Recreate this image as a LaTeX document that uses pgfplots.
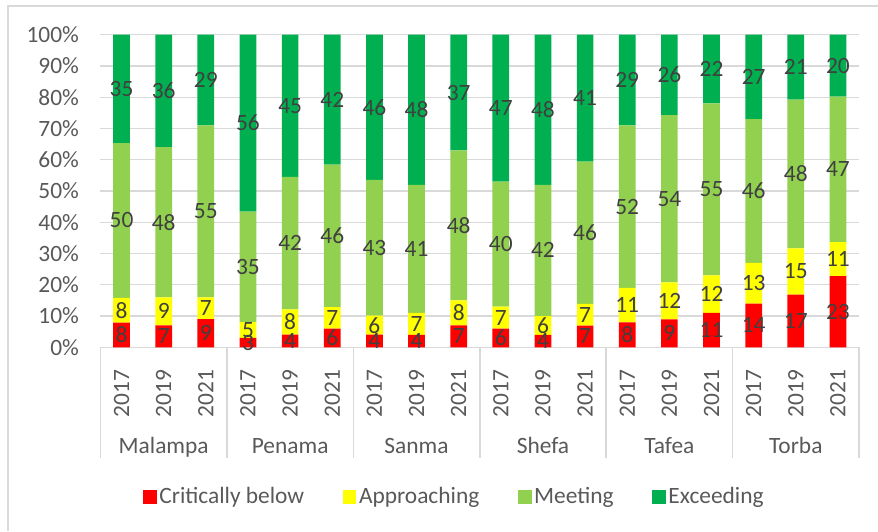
\documentclass[border=0pt]{standalone}
\usepackage{fontspec}
\setmainfont{Carlito}
\usepackage{pgfplots}
\pgfplotsset{compat=1.18}
\usepackage{pgfplotstable}

\definecolor{critred}{HTML}{FF0000}
\definecolor{apprylw}{HTML}{FFFF00}
\definecolor{meetgrn}{HTML}{92D050}
\definecolor{excdgrn}{HTML}{00B050}
\definecolor{labgray}{HTML}{595959}
\definecolor{valgray}{HTML}{404040}
\definecolor{gridgray}{HTML}{D9D9D9}

\newcommand\chartfont{\fontsize{11.7pt}{14pt}\selectfont}

% cn..en = share of the bar (scaled to 100), cl..el = printed value
\pgfplotstableread{
x  cn     an     mn     en     cl al ml el
0  7.92   7.92   49.50  34.65  8  8  50 35
1  7      9      48     36     7  9  48 36
2  9      7      55     29     9  7  55 29
3  3.03   5.05   35.35  56.57  3  5  35 56
4  4.04   8.08   42.42  45.45  4  8  42 45
5  5.94   6.93   45.54  41.58  6  7  46 42
6  4.04   6.06   43.43  46.46  4  6  43 46
7  4      7      41     48     4  7  41 48
8  7      8      48     37     7  8  48 37
9  6      7      40     47     6  7  40 47
10 4      6      42     48     4  6  42 48
11 6.93   6.93   45.54  40.59  7  7  46 41
12 8      11     52     29     8  11 52 29
13 8.91   11.88  53.47  25.74  9  12 54 26
14 11     12     55     22     11 12 55 22
15 14     13     46     27     14 13 46 27
16 16.83  14.85  47.52  20.79  17 15 48 21
17 22.77  10.89  46.53  19.80  23 11 47 20
}\scores

\begin{document}
\begin{tikzpicture}
\useasboundingbox (-50.25pt,-91.85pt) rectangle (388.75pt,173.65pt);
\draw[gridgray, line width=0.75pt] (-46.25pt,-91.85pt) -- (-46.25pt,170.65pt) -- (388.75pt,170.65pt);
\begin{axis}[
    at={(0pt,0pt)}, anchor=south west,
    scale only axis,
    width=379.25pt, height=156.3pt,
    ybar stacked,
    bar width=8.35pt,
    xmin=-0.5, xmax=17.5,
    ymin=0, ymax=100,
    xtick={0,...,17},
    xticklabels={2017,2019,2021,2017,2019,2021,2017,2019,2021,2017,2019,2021,2017,2019,2021,2017,2019,2021},
    xticklabel style={yshift=-11pt, rotate=90, anchor=east, inner sep=0pt},
    ytick={0,10,...,100},
    yticklabel={\pgfmathprintnumber{\tick}\%},
    yticklabel style={inner sep=0pt, xshift=-10.6pt},
    tick label style={font=\chartfont, text=labgray},
    /pgf/number format/assume math mode=true,
    major tick length=0pt,
    ymajorgrids,
    grid style={gridgray, line width=0.6pt},
    axis line style={draw=none},
    clip=false,
    point meta=explicit symbolic,
    nodes near coords,
    % stacked bars already put the label half way down the segment
    every node near coord/.append style={anchor=center, font=\chartfont, text=valgray},
    legend style={at={(0.467,-0.478)}, anchor=center, legend columns=4,
        draw=none, fill=none, font=\chartfont, text=labgray,
        nodes={inner xsep=1.3pt},
        /tikz/every even column/.append style={column sep=18pt}},
    legend image code/.code={\fill[#1] (0pt,-3.4pt) rectangle (6.8pt,3.4pt);},
]
\addplot[fill=critred, draw=none] table[x=x, y=cn, meta=cl] {\scores};
\addplot[fill=apprylw, draw=none] table[x=x, y=an, meta=al] {\scores};
\addplot[fill=meetgrn, draw=none] table[x=x, y=mn, meta=ml] {\scores};
\addplot[fill=excdgrn, draw=none] table[x=x, y=en, meta=el] {\scores};
\legend{Critically below, Approaching, Meeting, Exceeding}

% group separators and region names
\pgfplotsinvokeforeach{-0.5,2.5,5.5,8.5,11.5,14.5,17.5}{
    \draw[gridgray, line width=0.75pt] (axis cs:#1,0) -- ++(0pt,-55.5pt);
}
\node[anchor=base, font=\chartfont, text=labgray, yshift=-53pt] at (axis cs:1,0) {Malampa};
\node[anchor=base, font=\chartfont, text=labgray, yshift=-53pt] at (axis cs:4,0) {Penama};
\node[anchor=base, font=\chartfont, text=labgray, yshift=-53pt] at (axis cs:7,0) {Sanma};
\node[anchor=base, font=\chartfont, text=labgray, yshift=-53pt] at (axis cs:10,0) {Shefa};
\node[anchor=base, font=\chartfont, text=labgray, yshift=-53pt] at (axis cs:13,0) {Tafea};
\node[anchor=base, font=\chartfont, text=labgray, yshift=-53pt] at (axis cs:16,0) {Torba};
\end{axis}
\end{tikzpicture}
\end{document}
